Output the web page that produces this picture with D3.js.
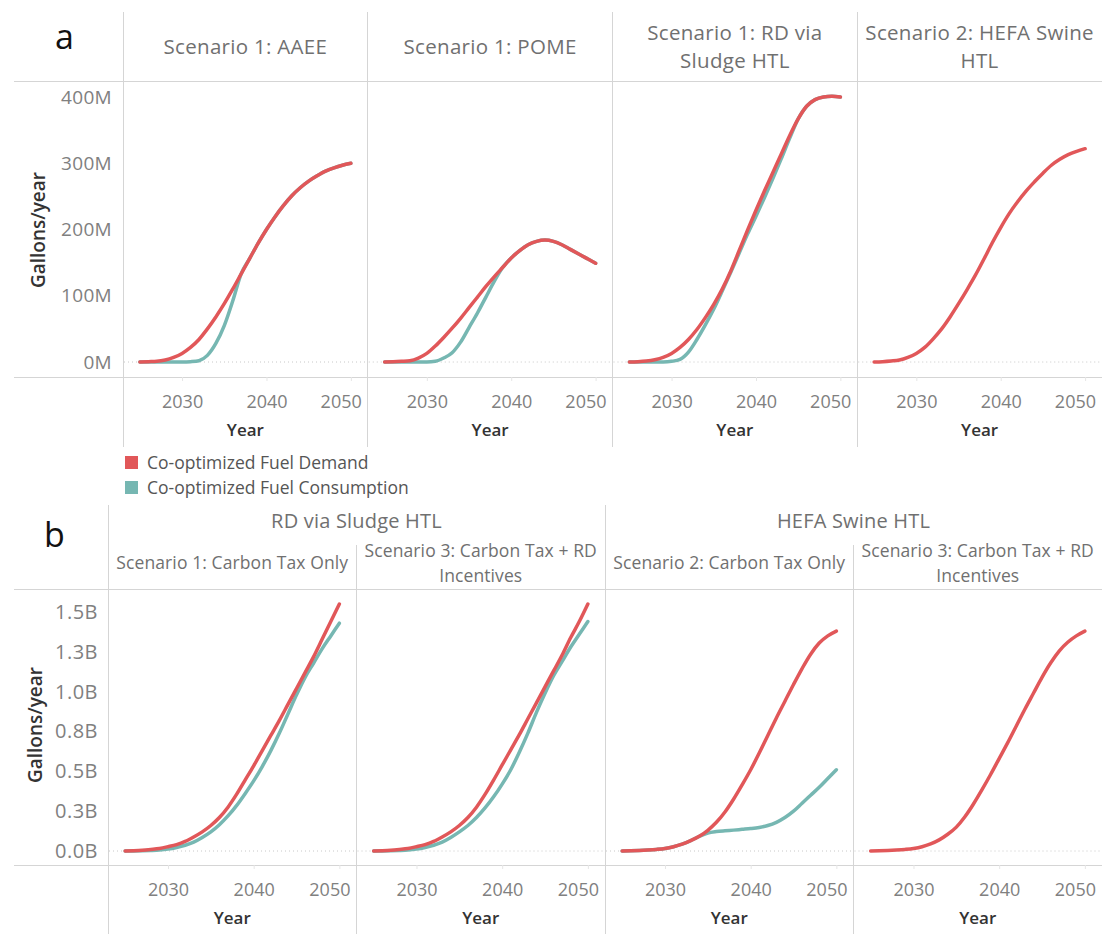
<!DOCTYPE html>
<html><head><meta charset="utf-8">
<script src="https://cdn.jsdelivr.net/npm/d3@7"></script>
<style>
body{margin:0;background:#fff}
svg{display:block}
</style>
</head><body>
<svg id="c" width="1102" height="934"></svg>
<script>
// ---------------- DATA ----------------
const years = [2025,2026,2027,2028,2029,2030,2031,2032,2033,2034,2035,2036,2037,2038,2039,2040,2041,2042,2043,2044,2045,2046,2047,2048,2049,2050];
const xTicks = [2030, 2040, 2050];

const seriesNames = ["Co-optimized Fuel Demand", "Co-optimized Fuel Consumption"];

// Panel a (millions of gallons / year)
const topPanelTitles = [["Scenario 1: AAEE"], ["Scenario 1: POME"], ["Scenario 1: RD via", "Sludge HTL"], ["Scenario 2: HEFA Swine", "HTL"]];
const topYTicks = [0, 100, 200, 300, 400];
const topYTickLabels = ["0M", "100M", "200M", "300M", "400M"];

const aaeeDemand      = [0,0.5,1,3,7,13,22,34,50,68,88,110,133,156,179,200,219,236,251,263,273,281,288,293,297,300];
const aaeeConsumption = [0,0,0,0,0,0,0.5,2,10,28,55,92,133,156,179,200,219,236,251,263,273,281,288,293,297,300];
const pomeDemand      = [0,0.3,1,2,6,13,24,37,51,66,82,98,114,129,143,157,168,177,182,184,182,177,170,163,156,149];
const pomeConsumption = [0,0,0,0,0,0,1,6,14,30,52,74,98,122,143,157,168,177,182,184,182,177,170,163,156,149];
const rdDemand        = [0,0.5,1.5,3.5,7,13,22,34,49,67,87,110,137,168,199,229,258,286,314,342,367,386,396,400,401,400];
const rdConsumption   = [0,0,0,0,0,1,4,15,34,56,80,107,135,164,193,220,248,277,307,338,367,386,396,400,401,400];
const hefaDemand      = [0,0.5,1.5,3,7,13,22,35,50,68,88,109,131,155,180,203,224,242,258,272,285,297,306,313,318,322];
const hefaConsumption = [null,null,null,null,null,null,null,null,null,null,null,null,null,null,null,null,null,null,null,null,null,null,null,null,null,null];

// Panel b (billions of gallons / year)
const bottomGroupTitles = ["RD via Sludge HTL", "HEFA Swine HTL"];
const bottomPanelTitles = [["Scenario 1: Carbon Tax Only"], ["Scenario 3: Carbon Tax + RD", "Incentives"], ["Scenario 2: Carbon Tax Only"], ["Scenario 3: Carbon Tax + RD", "Incentives"]];
const bottomYTicks = [0, 0.25, 0.5, 0.75, 1, 1.25, 1.5];
const bottomYTickLabels = ["0.0B", "0.3B", "0.5B", "0.8B", "1.0B", "1.3B", "1.5B"];

const rdS1Demand        = [0,0.002,0.005,0.01,0.016,0.027,0.04,0.06,0.088,0.12,0.16,0.21,0.275,0.355,0.445,0.535,0.63,0.725,0.82,0.92,1.02,1.12,1.22,1.33,1.44,1.55];
const rdS1Consumption   = [0,0,0.001,0.003,0.006,0.012,0.022,0.036,0.056,0.085,0.12,0.165,0.22,0.285,0.36,0.44,0.53,0.63,0.74,0.86,0.98,1.09,1.18,1.27,1.35,1.43];
const rdS3Demand        = [0,0.002,0.005,0.01,0.016,0.027,0.04,0.06,0.088,0.12,0.16,0.21,0.275,0.355,0.445,0.54,0.635,0.73,0.83,0.93,1.03,1.13,1.23,1.34,1.44,1.55];
const rdS3Consumption   = [0,0,0.001,0.003,0.006,0.012,0.022,0.036,0.056,0.085,0.12,0.16,0.21,0.27,0.34,0.42,0.51,0.62,0.74,0.87,0.99,1.1,1.19,1.28,1.36,1.44];
const hefaS2Demand      = [0,0.001,0.003,0.006,0.01,0.016,0.027,0.043,0.065,0.092,0.13,0.18,0.245,0.325,0.415,0.51,0.615,0.725,0.835,0.94,1.045,1.145,1.235,1.305,1.35,1.38];
const hefaS2Consumption = [0,0.001,0.003,0.006,0.01,0.016,0.027,0.043,0.065,0.092,0.113,0.122,0.127,0.131,0.136,0.141,0.148,0.16,0.18,0.21,0.25,0.3,0.35,0.4,0.455,0.51];
const hefaS3Demand      = [0,0.001,0.003,0.006,0.01,0.016,0.027,0.045,0.07,0.105,0.15,0.215,0.295,0.385,0.48,0.58,0.68,0.785,0.89,0.99,1.09,1.18,1.255,1.31,1.35,1.38];
const hefaS3Consumption = [null,null,null,null,null,null,null,null,null,null,null,null,null,null,null,null,null,null,null,null,null,null,null,null,null,null];

const topSeries = [[aaeeDemand, aaeeConsumption], [pomeDemand, pomeConsumption], [rdDemand, rdConsumption], [hefaDemand, hefaConsumption]];
const bottomSeries = [[rdS1Demand, rdS1Consumption], [rdS3Demand, rdS3Consumption], [hefaS2Demand, hefaS2Consumption], [hefaS3Demand, hefaS3Consumption]];

// ---------------- STYLE ----------------
const FONT = "'Open Sans','Noto Sans',sans-serif";
const RULE = "#d5d5d5";
const colorScale = d3.scaleOrdinal().domain(seriesNames).range(["#E15759", "#76B7B2"]);
const HEAD = "#707070", TICK = "#808080", TITLE = "#333";

const svg = d3.select("#c").style("font-family", FONT);

function rule(x1, y1, x2, y2) {
  svg.append("line").attr("x1", x1).attr("y1", y1).attr("x2", x2).attr("y2", y2)
    .attr("stroke", RULE).attr("stroke-width", 1).attr("shape-rendering", "crispEdges");
}

function drawSection(o) {
  const edge = d3.scaleLinear().domain([0, 4]).range([o.left, o.right]);
  rule(14, o.headerBottom, o.right, o.headerBottom);
  rule(14, o.axisY, o.right, o.axisY);
  o.vlines.forEach(v => rule(edge(v.i), v.y1, edge(v.i), v.y2));

  // panel headers
  o.titles.forEach((lines, i) => {
    const cx = (edge(i) + edge(i + 1)) / 2;
    const t = svg.append("text").attr("text-anchor", "middle").attr("fill", HEAD)
      .attr("font-size", o.headFont).attr("letter-spacing", o.headSpacing);
    const startY = o.headCenter - (lines.length - 1) * o.headLine / 2;
    lines.forEach((s, k) => t.append("tspan").attr("x", cx).attr("y", startY + k * o.headLine).attr("dy", "0.35em").text(s));
  });

  // y axis labels
  const gy = svg.append("g").attr("transform", `translate(${o.yLabelRight},0)`);
  gy.call(d3.axisLeft(o.y).tickValues(o.yTicks).tickFormat((d, i) => o.yLabels[i]).tickSize(0).tickPadding(0));
  gy.select(".domain").remove();
  gy.selectAll("text").attr("fill", TICK).attr("font-size", o.yFont).attr("letter-spacing", o.ySpacing).attr("font-family", FONT);

  // y title
  svg.append("text").attr("transform", `translate(${o.yTitleX},${o.yTitleY}) rotate(-90)`)
    .attr("text-anchor", "middle").attr("dy", "0.35em").attr("fill", TITLE)
    .attr("font-size", 19).attr("font-weight", 600).text("Gallons/year");

  o.series.forEach((pair, i) => {
    const x0 = edge(i), x1 = edge(i + 1);
    const x = d3.scaleLinear().domain([2023, 2052]).range([x0, x1]);
    // dotted zero line
    svg.append("line").attr("x1", x0 + 1).attr("x2", x1 - 1).attr("y1", o.y(0)).attr("y2", o.y(0))
      .attr("stroke", "#c8c8c8").attr("stroke-width", 1).attr("stroke-dasharray", "1,3");
    // x axis
    const gx = svg.append("g").attr("transform", `translate(0,${o.axisY})`);
    gx.call(d3.axisBottom(x).tickValues(xTicks).tickFormat(d3.format("d")).tickSize(4).tickPadding(o.tickPad));
    gx.select(".domain").remove();
    gx.selectAll("line").attr("stroke", "#e6e6e6");
    gx.selectAll("text").attr("fill", TICK).attr("font-size", 18).attr("font-family", FONT)
      .each(function () {
        const b = this.getBBox();
        const tr = this.parentNode.transform.baseVal.consolidate().matrix.e;
        const right = tr + b.x + b.width;
        if (right > x1 - 6) d3.select(this).attr("x", (x1 - 6) - right);
      });
    svg.append("text").attr("x", (x0 + x1) / 2).attr("y", o.yearY).attr("dy", "0.35em")
      .attr("text-anchor", "middle").attr("fill", TITLE).attr("font-size", 17).attr("font-weight", 600).text("Year");

    // lines: consumption underneath, demand on top
    const line = d3.line().defined(d => d.v != null).x(d => x(d.year)).y(d => o.y(d.v)).curve(d3.curveMonotoneX);
    [1, 0].forEach(s => {
      const data = years.map((yr, k) => ({year: yr, v: pair[s][k]}));
      if (!data.some(d => d.v != null)) return;
      svg.append("path").datum(data).attr("d", line).attr("fill", "none")
        .attr("stroke", colorScale(seriesNames[s])).attr("stroke-width", 3.5)
        .attr("stroke-linejoin", "round").attr("stroke-linecap", "round");
    });
  });
}

// ---------- Section a ----------
drawSection({
  left: 123, right: 1102, headerBottom: 81, axisY: 377,
  vlines: [0, 1, 2, 3].map(i => ({i, y1: 12, y2: 447})),
  titles: topPanelTitles, headCenter: 47, headLine: 28, headFont: 20.5, headSpacing: 0.3,
  y: d3.scaleLinear().domain([0, 400]).range([362, 97]),
  yTicks: topYTicks, yLabels: topYTickLabels, yLabelRight: 112, yFont: 19, ySpacing: 0.3,
  yTitleX: 38, yTitleY: 230, tickPad: 14, yearY: 430,
  series: topSeries
});

// ---------- Section b ----------
const bEdge = d3.scaleLinear().domain([0, 4]).range([108, 1102]);
bottomGroupTitles.forEach((t, g) => {
  svg.append("text").attr("x", (bEdge(g * 2) + bEdge(g * 2 + 2)) / 2).attr("y", 521).attr("dy", "0.35em")
    .attr("text-anchor", "middle").attr("fill", HEAD).attr("font-size", 20).attr("letter-spacing", 0.2).text(t);
});
drawSection({
  left: 108, right: 1102, headerBottom: 589, axisY: 865,
  vlines: [{i: 0, y1: 505, y2: 934}, {i: 1, y1: 545, y2: 934}, {i: 2, y1: 505, y2: 934}, {i: 3, y1: 545, y2: 934}],
  titles: bottomPanelTitles, headCenter: 563, headLine: 25, headFont: 17.5, headSpacing: 0.1,
  y: d3.scaleLinear().domain([0, 1.5]).range([851, 612]),
  yTicks: bottomYTicks, yLabels: bottomYTickLabels, yLabelRight: 98, yFont: 20, ySpacing: 0.5,
  yTitleX: 35, yTitleY: 725, tickPad: 14, yearY: 918,
  series: bottomSeries
});

// ---------- Legend ----------
seriesNames.forEach((name, i) => {
  const yy = 463 + i * 25;
  svg.append("rect").attr("x", 125).attr("y", yy - 7).attr("width", 13).attr("height", 13).attr("fill", colorScale(name));
  svg.append("text").attr("x", 147).attr("y", yy).attr("dy", "0.35em").attr("fill", "#555").attr("font-size", 17.5).text(name);
});

// ---------- Panel letters ----------
svg.append("text").attr("x", 55).attr("y", 49).attr("font-size", 34).attr("fill", "#111").text("a");
svg.append("text").attr("x", 44).attr("y", 547).attr("font-size", 34).attr("fill", "#111").text("b");
</script>
</body></html>
